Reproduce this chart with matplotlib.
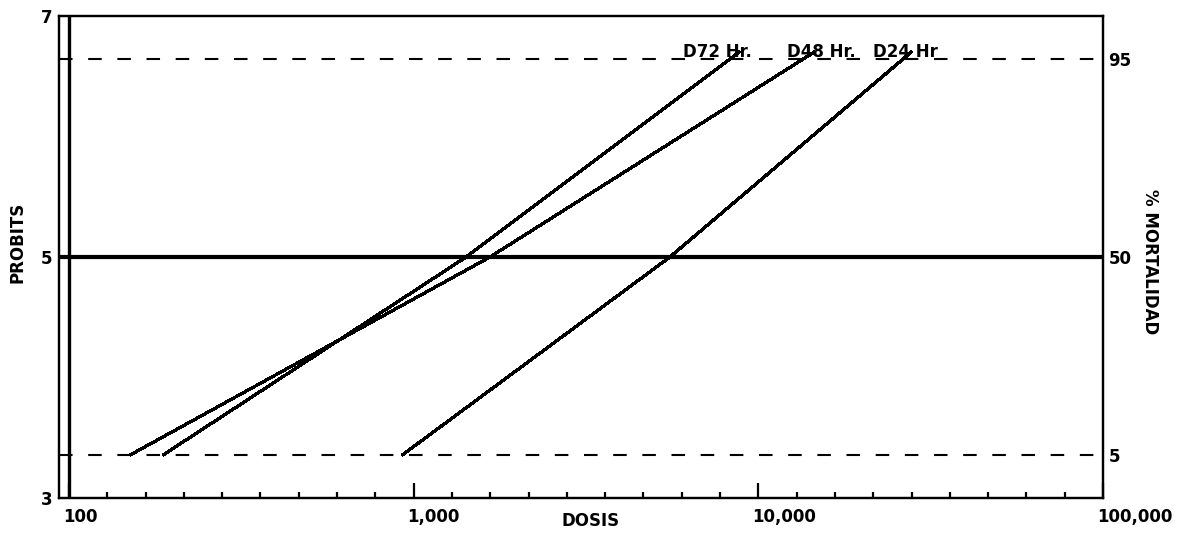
import numpy as np
import matplotlib
matplotlib.use("Agg")
import matplotlib.pyplot as plt
from matplotlib.transforms import ScaledTranslation

# dose (log scale) vs probit for each exposure time
dose_72 = [187, 1420, 8850]
prob_72 = [3.355, 5.0, 6.705]
dose_48 = [150, 1665, 14600]
prob_48 = [3.355, 5.0, 6.705]
dose_24 = [925, 5540, 27900]
prob_24 = [3.355, 5.0, 6.705]
series_labels = ["D72 Hr.", "D48 Hr.", "D24 Hr"]

# reference levels: probit of 5 %, 50 % and 95 % mortality
ref_probits = [3.355, 5.0, 6.645]
ref_pct = ["5", "50", "95"]

x_ticks = [100, 1000, 10000, 100000]
x_ticklabels = ["100", "1,000", "10,000", "100,000"]
y_ticks = [3, 5, 7]

FONT = dict(family="DejaVu Sans", weight="bold", size=12)

fig = plt.figure(figsize=(11.82, 5.35), dpi=100)
ax = fig.add_axes([59 / 1182, 1 - 498 / 535, 1044 / 1182, 482 / 535])
ax.set_xscale("log")
ax.set_xlim(10 ** (2 - 10 / 344.67), 1e5)
ax.set_ylim(3, 7)

for s in ax.spines.values():
    s.set_linewidth(1.6)

# frame line at the 100 dose mark
ax.axvline(100, color="k", lw=2.4)

# mortality reference lines
ax.axhline(ref_probits[0], color="k", lw=1.5, ls=(0, (6.5, 7.5)))
ax.axhline(ref_probits[2], color="k", lw=1.5, ls=(0, (6.5, 7.5)))
ax.axhline(ref_probits[1], color="k", lw=3.0)

for d, p in [(dose_72, prob_72), (dose_48, prob_48), (dose_24, prob_24)]:
    ax.plot(d, p, color="k", lw=1.6, antialiased=False, solid_capstyle="butt")

# series labels near upper ends
label_dx = [-57, -28, -39]
for d, p, txt, dx in zip([dose_72, dose_48, dose_24], [prob_72, prob_48, prob_24],
                         series_labels, label_dx):
    ax.annotate(txt, (d[-1], p[-1]), xytext=(dx * 0.72, 0), textcoords="offset points",
                ha="left", va="center", **FONT)

# x axis
ax.set_xticks(x_ticks)
ax.set_xticklabels(x_ticklabels, **FONT)
minor = [10 ** (n + k / 9) for n in range(2, 5) for k in range(1, 9)]
ax.set_xticks(minor, minor=True)
ax.xaxis.set_minor_formatter(plt.NullFormatter())
ax.tick_params(axis="x", which="major", direction="in", length=11, width=1.6, pad=7)
ax.tick_params(axis="x", which="minor", direction="in", length=4.5, width=1.6)
offset = ScaledTranslation(-6 / 100, 0, fig.dpi_scale_trans)
for lab in ax.get_xticklabels():
    lab.set_horizontalalignment("left")
    lab.set_transform(lab.get_transform() + offset)

# left probit axis
ax.set_yticks(y_ticks)
ax.set_yticklabels([str(t) for t in y_ticks], **FONT)
ax.tick_params(axis="y", length=0, pad=5)

# right % mortality axis
ax2 = ax.twinx()
ax2.set_ylim(ax.get_ylim())
ax2.set_yticks(ref_probits)
ax2.set_yticklabels(ref_pct, **FONT)
ax2.tick_params(axis="y", length=0, pad=4)
for s in ax2.spines.values():
    s.set_linewidth(1.6)

fig.text(18 / 1182, 1 - 242 / 535, "PROBITS", rotation=90, ha="center", va="center", **FONT)
fig.text(1150 / 1182, 1 - 262 / 535, "% MORTALIDAD", rotation=270, ha="center", va="center", **FONT)
fig.text(591 / 1182, 1 - 521 / 535, "DOSIS", ha="center", va="center", **FONT)

fig.savefig("out.png", dpi=100)
